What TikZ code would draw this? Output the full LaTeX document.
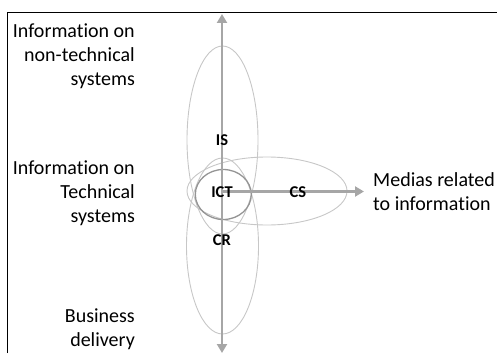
\documentclass[tikz,border=0pt]{standalone}
\usepackage{fontspec}
\setmainfont{Carlito}[Ligatures=NoCommon]
\usetikzlibrary{arrows.meta}
\tikzset{
  axisline/.style={draw=black!35, line width=2.6pt, -{Triangle[width=10pt,length=9pt]}},
  zone/.style={draw=black!22, line width=0.9pt},
  ictring/.style={draw=black!42, line width=1.3pt},
  side/.style={font=\fontsize{20}{24}\selectfont, align=right, anchor=east, inner sep=0pt},
  rside/.style={font=\fontsize{20}{24}\selectfont, align=left, anchor=west, inner sep=0pt},
  tag/.style={font=\fontsize{16.5}{18}\selectfont\bfseries, inner sep=0pt}
}
\begin{document}
\begin{tikzpicture}[x=1pt,y=-1pt]
\useasboundingbox (0,0) rectangle (497,353);
% frame
\draw[line width=1.6pt] (7.5,353) -- (7.5,12.5) -- (497,12.5);
% zones
\draw[zone] (222.5,140) ellipse [x radius=35.5pt, y radius=94pt];
\draw[zone] (222.5,246) ellipse [x radius=36pt, y radius=88pt];
\draw[zone] (267,191) ellipse [x radius=80pt, y radius=34pt];
\draw[ictring] (223.3,194.5) ellipse [x radius=28pt, y radius=25pt];
% axes
\coordinate (vtop) at (222,14);
\coordinate (vbot) at (222,353);
\coordinate (hstart) at (222,191.5);
\coordinate (hend) at (364,191.5);
\draw[axisline] (hstart) -- (hend);
\draw[axisline, {Triangle[width=10pt,length=9pt]}-{Triangle[width=10pt,length=9pt]}] (vbot) -- (vtop);
% tags
\node[tag] (is) at (222,140) {IS};
\node[tag] (ict) at (222,192) {ICT};
\node[tag] (cs) at (298,192) {CS};
\node[tag] (cr) at (222,240) {CR};
% side labels
\node[side] (l1) at (135,56) {Information on\\non-technical\\systems};
\node[side] (l2) at (135,193) {Information on\\Technical\\systems};
\node[side] (l3) at (135,329) {Business\\delivery};
\node[rside] (r1) at (373,192) {Medias related\\to information};
\end{tikzpicture}
\end{document}
